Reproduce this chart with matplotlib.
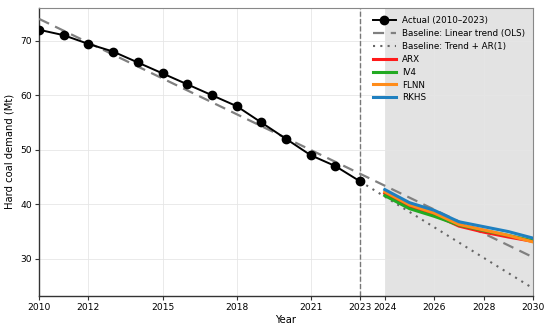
import numpy as np
import matplotlib
matplotlib.use("Agg")
import matplotlib.pyplot as plt

years_actual = [2010, 2011, 2012, 2013, 2014, 2015, 2016,
                2017, 2018, 2019, 2020, 2021, 2022, 2023]
actual = [72.0, 71.0, 69.4, 68.0, 66.0, 64.0, 62.0,
          60.0, 58.0, 55.0, 52.0, 49.0, 47.0, 44.2]

# baselines (straight lines, end points)
years_ols = [2010, 2030]
ols = [74.0, 30.3]
years_ar = [2023, 2030]
trend_ar = [44.2, 24.6]

# model forecasts 2024-2030
years_fc = [2024, 2025, 2026, 2027, 2028, 2029, 2030]
arx = [42.0, 39.6, 38.1, 36.0, 34.9, 34.0, 33.2]
iv4 = [41.6, 39.2, 37.8, 36.2, 35.2, 34.3, 33.3]
flnn = [42.3, 39.9, 38.4, 36.3, 35.3, 34.3, 33.1]
rkhs = [42.7, 40.3, 38.9, 36.8, 35.9, 35.0, 33.8]

xticks = [2010, 2012, 2015, 2018, 2021, 2023, 2024, 2026, 2028, 2030]
yticks = [30, 40, 50, 60, 70]

plt.rc('font', size=6.5)

fig = plt.figure(figsize=(5.5, 3.31), dpi=100)
ax = fig.add_axes([0.071, 0.106, 0.898, 0.870])

ax.axvspan(2024, 2030, color='#e3e3e3', zorder=0, lw=0)
ax.axvline(2023, color='#777777', linestyle='--', linewidth=1.0, zorder=2)

ax.plot(years_actual, actual, color='black', marker='o', markersize=6,
        linewidth=1.4, label='Actual (2010\u20132023)', zorder=5)
ax.plot(years_ols, ols, color='#808080', linestyle=(0, (5, 3)), linewidth=1.6,
        label='Baseline: Linear trend (OLS)', zorder=4)
ax.plot(years_ar, trend_ar, color='#666666', linestyle=(0, (1, 2.5)), linewidth=1.5,
        label='Baseline: Trend + AR(1)', zorder=4)

ax.plot(years_fc, arx, color='#ff1a1a', linewidth=2.2, label='ARX', zorder=6)
ax.plot(years_fc, iv4, color='#22aa22', linewidth=2.2, label='IV4', zorder=6)
ax.plot(years_fc, flnn, color='#ff8c1a', linewidth=2.2, label='FLNN', zorder=6)
ax.plot(years_fc, rkhs, color='#1f80c0', linewidth=2.2, label='RKHS', zorder=6)

ax.set_xlim(2010, 2030)
ax.set_ylim(23.2, 76.0)
ax.set_xticks(xticks)
ax.set_yticks(yticks)
ax.grid(True, color='#e6e6e6', linewidth=0.6)
ax.tick_params(labelsize=6.6, length=3, pad=2, color='#333333')

for side in ['top', 'right']:
    ax.spines[side].set_color('#888888')
for side in ['left', 'bottom']:
    ax.spines[side].set_color('#333333')
    ax.spines[side].set_linewidth(1.0)

ax.set_xlabel('Year', fontsize=7.2, labelpad=2)
ax.set_ylabel('Hard coal demand (Mt)', fontsize=7.2)

leg = ax.legend(loc='upper right', fontsize=6.3, frameon=False,
                handlelength=2.6, borderaxespad=0.5, labelspacing=0.45,
                handletextpad=0.7)

plt.savefig('out.png', dpi=100)
